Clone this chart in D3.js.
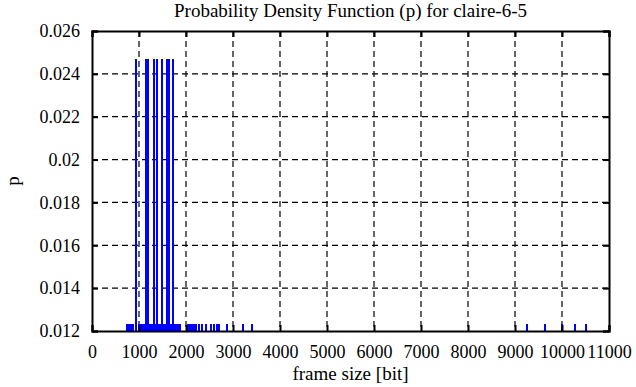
<!DOCTYPE html>
<html>
<head>
<meta charset="utf-8">
<script src="https://cdnjs.cloudflare.com/ajax/libs/d3/7.8.5/d3.min.js"></script>
<style>
  body { margin: 0; background: #fff; }
  svg { display: block; font-family: "Liberation Serif", "Times New Roman", serif; }
</style>
</head>
<body>
<svg id="chart" width="636" height="387"></svg>
<script>
// frame sizes seen twice (p = 2/81) and once (p = 1/81)
var tallSizes = [945, 1143, 1185, 1313, 1377, 1479, 1589, 1632, 1717];
var shortSizes = [740, 770, 810, 850, 880, 1000, 1040, 1080, 1110, 1210, 1240, 1270,
                  1340, 1420, 1450, 1520, 1550, 1680, 1760, 1800, 1850, 1880, 2040,
                  2080, 2120, 2170, 2220, 2280, 2330, 2420, 2540, 2600, 2650, 2710,
                  2880, 3210, 3400, 9250, 9630, 10010, 10270, 10505];
var tallP = 0.02469;
var shortP = 0.01234;
var xTicks = [0, 1000, 2000, 3000, 4000, 5000, 6000, 7000, 8000, 9000, 10000, 11000];
var yTicks = [0.012, 0.014, 0.016, 0.018, 0.02, 0.022, 0.024, 0.026];

var points = tallSizes.map(function(s){ return {size: s, p: tallP}; })
    .concat(shortSizes.map(function(s){ return {size: s, p: shortP}; }));

var svg = d3.select('#chart');
var plotL = 92, plotR = 609, plotT = 31, plotB = 331;

var x = d3.scaleLinear().domain([0, 11000]).range([plotL, plotR]);
var y = d3.scaleLinear().domain([0.012, 0.026]).range([plotB, plotT]);

// grid
svg.append('g').selectAll('line')
    .data(xTicks.slice(1, -1))
    .enter().append('line')
    .attr('x1', function(d){ return x(d); }).attr('x2', function(d){ return x(d); })
    .attr('y1', plotT).attr('y2', plotB)
    .style('stroke', '#000').style('stroke-width', 1.2).style('stroke-dasharray', '6,4');
svg.append('g').selectAll('line')
    .data(yTicks.slice(1, -1))
    .enter().append('line')
    .attr('x1', plotL).attr('x2', plotR)
    .attr('y1', function(d){ return y(d); }).attr('y2', function(d){ return y(d); })
    .style('stroke', '#000').style('stroke-width', 1.2).style('stroke-dasharray', '6,4');

// impulses
svg.append('g').selectAll('line')
    .data(points)
    .enter().append('line')
    .attr('x1', function(d){ return Math.round(x(d.size)); })
    .attr('x2', function(d){ return Math.round(x(d.size)); })
    .attr('y1', plotB).attr('y2', function(d){ return y(d.p); })
    .style('stroke', '#0000ff').style('stroke-width', 2)
    .style('shape-rendering', 'crispEdges');

// axes with inward ticks, mirrored
var fmtY = function(d){ return d3.format('.3~f')(d); };
svg.append('g').attr('transform', 'translate(0,' + plotB + ')')
    .call(d3.axisBottom(x).tickValues(xTicks).tickSize(-6).tickPadding(14).tickFormat(d3.format('d')));
svg.append('g').attr('transform', 'translate(0,' + plotT + ')')
    .call(d3.axisTop(x).tickValues(xTicks).tickSize(-6).tickFormat(''));
svg.append('g').attr('transform', 'translate(' + plotL + ',0)')
    .call(d3.axisLeft(y).tickValues(yTicks).tickSize(-6).tickPadding(12).tickFormat(fmtY));
svg.append('g').attr('transform', 'translate(' + plotR + ',0)')
    .call(d3.axisRight(y).tickValues(yTicks).tickSize(-6).tickFormat(''));

svg.selectAll('.domain').style('stroke', '#000').style('stroke-width', 2);
svg.selectAll('.tick line').style('stroke', '#000').style('stroke-width', 2);
svg.selectAll('.tick text').style('font-family', '"Liberation Serif", serif')
    .style('font-size', '18px').style('fill', '#000');

// titles
svg.append('text').attr('x', (plotL + plotR) / 2).attr('y', 17)
    .attr('text-anchor', 'middle').style('font-size', '19px')
    .text('Probability Density Function (p) for claire-6-5');
svg.append('text').attr('x', (plotL + plotR) / 2).attr('y', 380)
    .attr('text-anchor', 'middle').style('font-size', '19px')
    .text('frame size [bit]');
svg.append('text').attr('transform', 'translate(19,' + ((plotT + plotB) / 2) + ') rotate(-90)')
    .attr('text-anchor', 'middle').style('font-size', '19px')
    .text('p');
</script>
</body>
</html>
